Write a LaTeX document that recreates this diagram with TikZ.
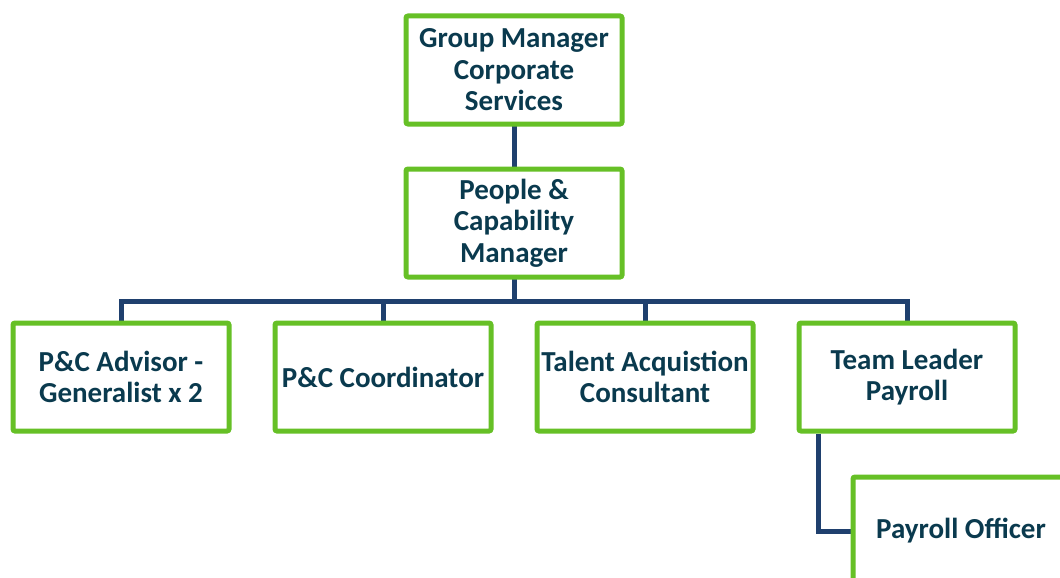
\documentclass[tikz,border=0pt]{standalone}
\usepackage{fontspec}
\setmainfont{Carlito}
\usetikzlibrary{backgrounds}
\definecolor{boxgreen}{RGB}{102,192,38}
\definecolor{linknavy}{RGB}{31,64,110}
\definecolor{labelteal}{RGB}{10,58,78}
\tikzset{
  role/.style={draw=boxgreen, line width=5pt, fill=white, rounded corners=2pt,
    minimum width=216pt, minimum height=108pt, inner sep=2pt, align=center,
    text=labelteal, font=\bfseries\fontsize{29}{31.5}\selectfont},
  link/.style={draw=linknavy, line width=5pt, line cap=rect}
}
\begin{document}
\begin{tikzpicture}[x=1pt, y=-1pt]
  \useasboundingbox (0,0) rectangle (1060,578);
  \clip (0,0) rectangle (1060,578);

  % management chain
  \node[role] (gm)  at (514,70)  {Group Manager\\Corporate\\Services};
  \node[role] (pcm) at (514,223) {People \&\\Capability\\Manager};

  % direct reports
  \node[role] (adv) at (121,377) {P\&C Advisor -\\Generalist x 2};
  \node[role] (crd) at (383,377) {P\&C Coordinator};
  \node[role] (tac) at (645,377) {Talent Acquistion\\Consultant};
  \node[role] (tlp) at (907,377) {Team Leader\\Payroll};

  % payroll team
  \node[role] (po)  at (961,531) {Payroll Officer};

  \coordinate (bus) at (514,301);

  \begin{pgfonlayer}{background}
    \draw[link] (gm.south) -- (pcm.north);
    \draw[link] (pcm.south) -- (bus);
    \draw[link] (bus) -| (adv.north);
    \draw[link] (bus) -| (crd.north);
    \draw[link] (bus) -| (tac.north);
    \draw[link] (bus) -| (tlp.north);
    \draw[link, line cap=butt] ([xshift=22pt]tlp.south west) |- (po.west);
  \end{pgfonlayer}
\end{tikzpicture}
\end{document}
